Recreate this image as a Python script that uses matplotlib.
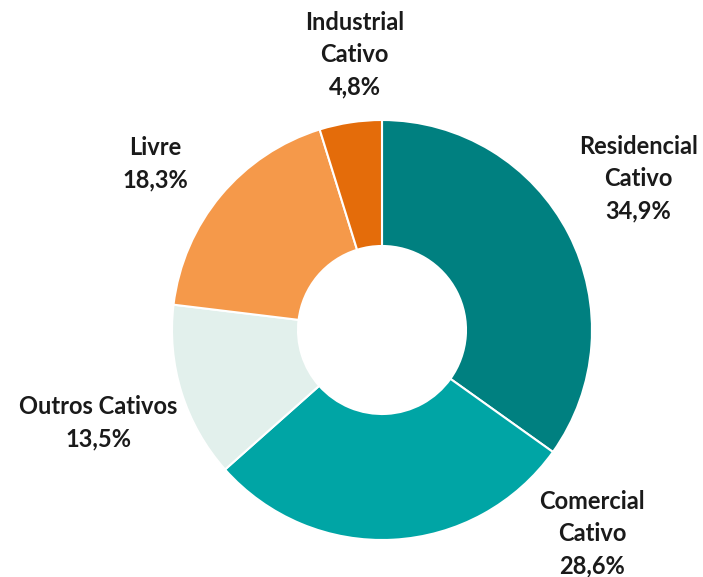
import matplotlib.pyplot as plt

# Market share by consumer class
labels = ['Residencial\nCativo', 'Comercial\nCativo', 'Outros Cativos', 'Livre', 'Industrial\nCativo']
shares = [34.9, 28.6, 13.5, 18.3, 4.8]
colors = ['#008080', '#00A5A5', '#E2F0EC', '#F5994A', '#E46C0A']

# label anchor points (data units, outer radius = 1)
label_pos = [(1.22, 0.72), (1.0, -0.97), (-1.35, -0.44), (-1.08, 0.79), (-0.13, 1.31)]

fig = plt.figure(figsize=(7.03, 5.77), dpi=100)
W, H = 703, 577
cx, cy, R = 382, 330, 210
span = 1.7
ax = fig.add_axes([(cx - R * span) / W, (H - cy - R * span) / H,
                   2 * R * span / W, 2 * R * span / H])

ax.pie(shares, colors=colors, startangle=90, counterclock=False, radius=1.0,
       wedgeprops=dict(width=0.6, edgecolor='white', linewidth=1.5))

for lab, val, (x, y) in zip(labels, shares, label_pos):
    ax.text(x, y, f"{lab}\n{val:.1f}%".replace('.', ','), ha='center', va='center',
            fontsize=17, fontweight='bold', family='Lato', color='#1a1a1a',
            linespacing=1.5)

ax.set_xlim(-span, span)
ax.set_ylim(-span, span)
ax.set_aspect('equal')
ax.axis('off')

fig.savefig('out.png', dpi=100)
